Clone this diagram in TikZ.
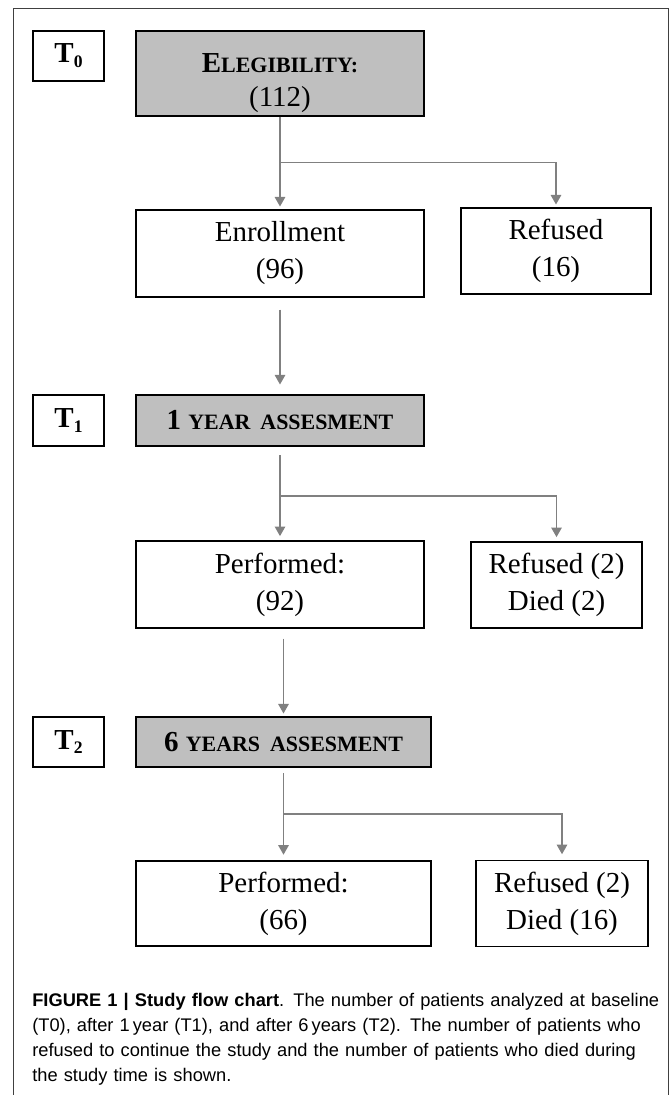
\documentclass[tikz,border=0pt]{standalone}
\usepackage{fontspec}
\setmainfont{Liberation Serif}
\newfontfamily\captionfont{Liberation Sans}
\usetikzlibrary{arrows.meta}
\definecolor{boxgray}{RGB}{191,191,191}
\definecolor{arrgray}{RGB}{128,128,128}
\newcommand\smcap[1]{{\fontsize{15.6}{18}\selectfont #1}}
\newcommand\tlabel[1]{\textbf{T\raisebox{-3.5pt}{\fontsize{12.5}{14}\selectfont #1}}}

\begin{document}
\begin{tikzpicture}[x=0.025cm, y=-0.025cm,
    box/.style 2 args={draw, line width=0.9pt, inner sep=0pt, align=center,
      minimum width=#1*0.025cm, minimum height=#2*0.025cm,
      font=\fontsize{20.6}{26.3}\selectfont},
    headbox/.style 2 args={box={#1}{#2}, fill=boxgray,
      font=\fontsize{20.6}{24}\selectfont},
    arr/.style={draw=arrgray, line width=1.2pt,
      -{Triangle[width=0.26cm, length=0.24cm]}}]
  \useasboundingbox (0,0) rectangle (671,1095);
  \draw[line width=0.6pt, black!75] (13,1095) |- (668,8) -- (668,1095);

  % T0
  \node[box={71}{50}] (t0) at (68.5,56) {\tlabel{0}};
  \node[headbox={288}{85}] (elig) at (280,73.5) {\rule{0pt}{27pt}\textbf{E\smcap{LEGIBILITY:}}\\(112)};
  \node[box={288}{87}] (enrol) at (280,253.5) {Enrollment\\(96)};
  \node[box={190}{86}] (refA) at (556,251) {Refused\\(16)};

  % T1
  \node[box={71}{51}] (t1) at (68.5,420.5) {\tlabel{1}};
  \node[headbox={288}{51}] (yr1) at (280,420.5) {\textbf{1 \smcap{YEAR\hspace{0.45em}ASSESMENT}}};
  \node[box={288}{87}] (perfA) at (280,584.5) {Performed:\\(92)};
  \node[box={171}{86}] (refB) at (556.5,585) {Refused (2)\\Died (2)};

  % T2
  \node[box={71}{50}] (t2) at (68.5,742) {\tlabel{2}};
  \node[headbox={295}{50}] (yr6) at (283.5,742) {\textbf{6 \smcap{YEARS\hspace{0.45em}ASSESMENT}}};
  \node[box={295}{85}] (perfB) at (283.5,903.5) {Performed:\\(66)};
  \node[box={172}{86}] (refC) at (562,903.5) {Refused (2)\\Died (16)};

  % connectors
  \draw[arr] (elig.south) -- ([yshift=2pt]enrol.north);
  \draw[arr] (elig.south) ++(0,46) -| ([yshift=2pt]refA.north);
  \draw[arr] ([yshift=-8.5pt]enrol.south) -- ([yshift=7pt]yr1.north);
  \draw[arr] ([yshift=-6pt]yr1.south) -- ([yshift=3pt]perfA.north);
  \draw[arr] ([yshift=-6pt]yr1.south) ++(0,41) -| ([yshift=3pt]refB.north);
  \draw[arr] (yr6.north |- perfA.south) ++(0,10) -- ([yshift=2pt]yr6.north);
  \draw[arr] ([yshift=-4pt]yr6.south) -- ([yshift=4pt]perfB.north);
  \draw[arr] ([yshift=-4pt]yr6.south) ++(0,41) -| ([yshift=4pt]refC.north);

  \node[anchor=north west, inner sep=0pt, align=left, text width=16cm,
    font=\captionfont\fontsize{13}{17.8}\selectfont] (cap) at (32,993)
    {\textbf{FIGURE 1 | Study flow chart}. The number of patients analyzed at baseline\\
     (T0), after 1\,year (T1), and after 6\,years (T2). The number of patients who\\
     refused to continue the study and the number of patients who died during\\
     the study time is shown.};
\end{tikzpicture}
\end{document}
